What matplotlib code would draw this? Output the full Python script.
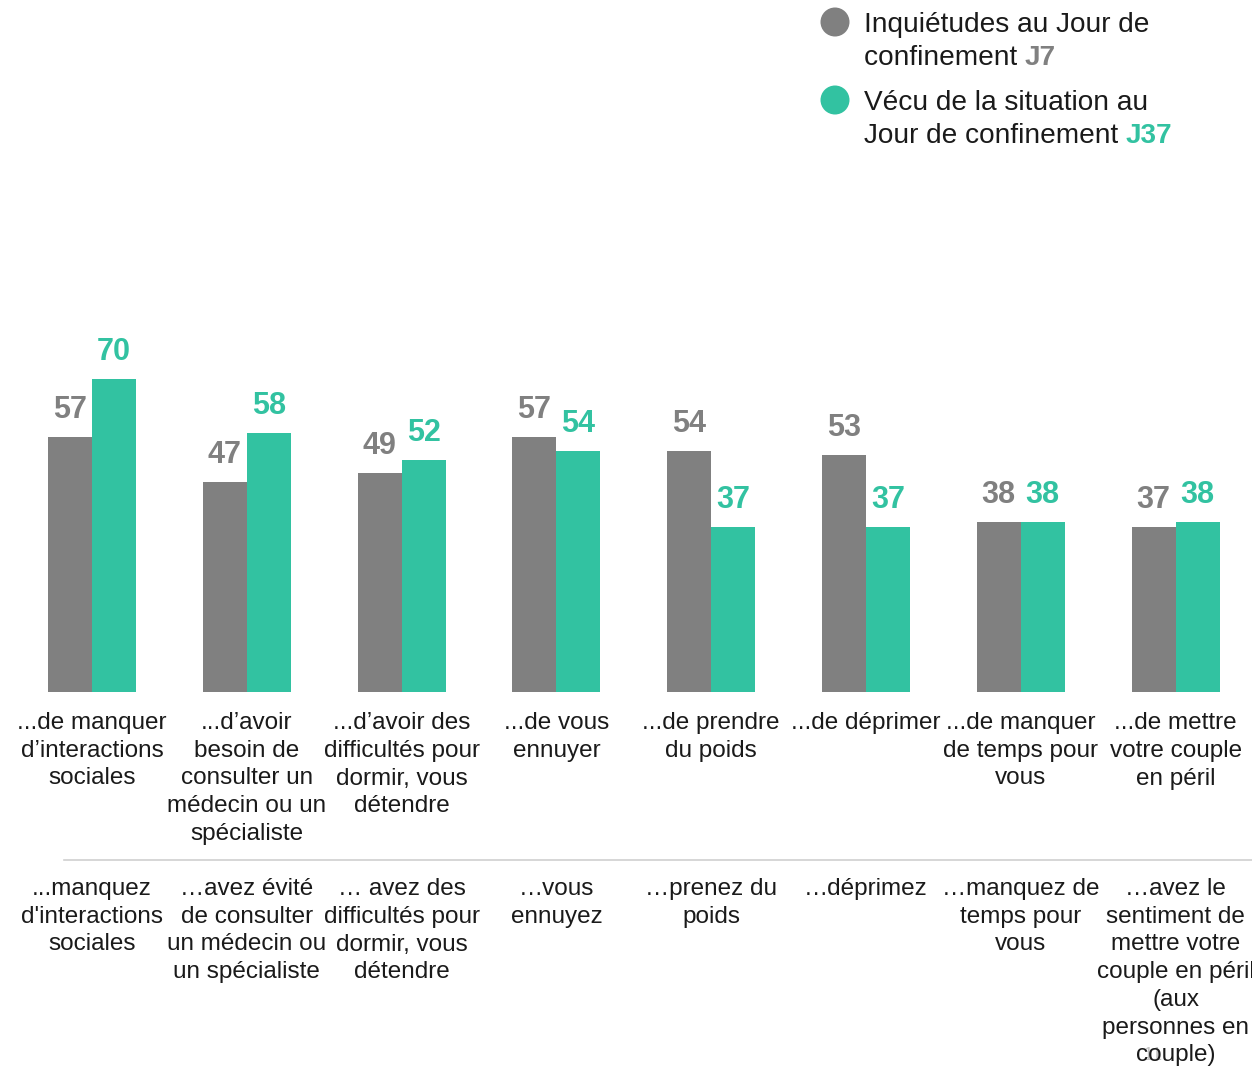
import matplotlib
matplotlib.use("Agg")
import matplotlib.pyplot as plt
import matplotlib.transforms as mtransforms
from matplotlib.patches import Ellipse
from matplotlib.lines import Line2D
import numpy as np

plt.rcParams['font.family'] = ['Liberation Sans', 'DejaVu Sans']

labels_top = [
    "...de manquer\nd\u2019interactions\nsociales",
    "...d\u2019avoir\nbesoin de\nconsulter un\nmédecin ou un\nspécialiste",
    "...d\u2019avoir des\ndifficultés pour\ndormir, vous\ndétendre",
    "...de vous\nennuyer",
    "...de prendre\ndu poids",
    "...de déprimer",
    "...de manquer\nde temps pour\nvous",
    "...de mettre\nvotre couple\nen péril",
]
labels_bottom = [
    "...manquez\nd'interactions\nsociales",
    "\u2026avez évité\nde consulter\nun médecin ou\nun spécialiste",
    "\u2026 avez des\ndifficultés pour\ndormir, vous\ndétendre",
    "\u2026vous\nennuyez",
    "\u2026prenez du\npoids",
    "\u2026déprimez",
    "\u2026manquez de\ntemps pour\nvous",
    "\u2026avez le\nsentiment de\nmettre votre\ncouple en péril\n(aux\npersonnes en\ncouple)",
]
j7 = [57, 47, 49, 57, 54, 53, 38, 37]
j37 = [70, 58, 52, 54, 37, 37, 38, 38]

GRAY = "#808080"
GREEN = "#32C2A1"
TXT = "#1a1a1a"

W, H = 1252, 1066
fig = plt.figure(figsize=(W / 100, H / 100), dpi=100)

def px(x0, y0, x1, y1):
    # pixel box (top-left origin) -> figure fraction rect
    return [x0 / W, 1 - y1 / H, (x1 - x0) / W, (y1 - y0) / H]

# axes: group spacing 154.8px, first center 92px; baseline at 692px, 4.47 px/unit
unit = 154.8
ax_left = 92 - 0.5 * unit
ymax = 80
ax_top = 692 - ymax * 4.47
ax = fig.add_axes(px(ax_left, ax_top, ax_left + 8 * unit, 692))
ax.set_xlim(-0.5, 7.5)
ax.set_ylim(0, ymax)
ax.axis("off")

x = np.arange(len(j7))
bw = 44 / unit
ax.bar(x - bw / 2, j7, width=bw, color=GRAY, linewidth=0)
ax.bar(x + bw / 2, j37, width=bw, color=GREEN, linewidth=0)

for xi, v in zip(x, j7):
    ax.annotate(str(v), (xi - bw / 2, v), xytext=(0, 13.7), textcoords="offset points",
                ha="center", va="baseline", fontsize=22, fontweight="bold", color=GRAY)
for xi, v in zip(x, j37):
    ax.annotate(str(v), (xi + bw / 2, v), xytext=(0, 13.7), textcoords="offset points",
                ha="center", va="baseline", fontsize=22, fontweight="bold", color=GREEN)

# legend / overlay axes in pixel coordinates (drawn below the labels)
lax = fig.add_axes([0, 0, 1, 1])
lax.set_xlim(0, W)
lax.set_ylim(H, 0)
lax.axis("off")
lax.set_zorder(-1)

# faint page number (partly hidden behind the last label in the reference)
lax.text(1153, 1055, "11", fontsize=14, color="#c4c4c4", ha="center", va="center", zorder=-2)

trans = mtransforms.blended_transform_factory(ax.transData, fig.transFigure)
line_step = 27.75

def put_label(xi, lab, first_baseline):
    for k, line in enumerate(lab.split("\n")):
        yb = first_baseline + k * line_step
        ax.text(xi, 1 - yb / H, line, transform=trans, ha="center", va="baseline",
                fontsize=17.5, color=TXT, clip_on=False)

for xi, lab in zip(x, labels_top):
    put_label(xi, lab, 729)
for xi, lab in zip(x, labels_bottom):
    put_label(xi, lab, 895)

# separator line
fig.add_artist(Line2D([64 / W, 1252 / W], [1 - 860 / H, 1 - 860 / H],
                      transform=fig.transFigure, color="#d0d0d0", linewidth=1.2))

# legend
lax.add_patch(Ellipse((835, 22), 29, 29, color=GRAY, linewidth=0))
lax.add_patch(Ellipse((835, 100), 29, 29, color=GREEN, linewidth=0))

fs_leg = 20.2
lax.text(864, 25, "Inquiétudes au Jour de", fontsize=fs_leg, color=TXT, va="center", ha="left")
t1 = lax.text(864, 58, "confinement ", fontsize=fs_leg, color=TXT, va="center", ha="left")
lax.annotate("J7", xy=(1, 0), xycoords=t1, va="bottom", ha="left",
             fontsize=fs_leg, fontweight="bold", color=GRAY)
lax.text(864, 103, "Vécu de la situation au", fontsize=fs_leg, color=TXT, va="center", ha="left")
t2 = lax.text(864, 136, "Jour de confinement ", fontsize=fs_leg, color=TXT, va="center", ha="left")
lax.annotate("J37", xy=(1, 0), xycoords=t2, va="bottom", ha="left",
             fontsize=fs_leg, fontweight="bold", color=GREEN)

fig.savefig("out.png", dpi=100)
